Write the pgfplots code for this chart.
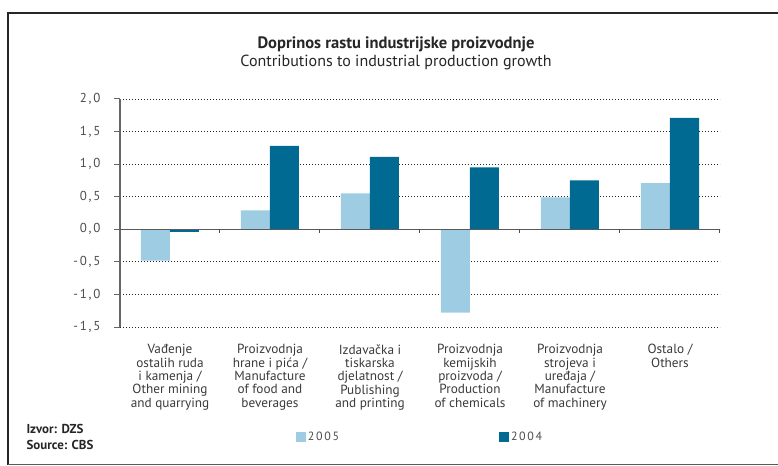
\documentclass[border=0pt]{standalone}
\usepackage{fontspec}
\setmainfont{PT Sans}
\newfontfamily\tickfont[LetterSpace=14]{PT Sans}
\usepackage{pgfplots}
\pgfplotsset{compat=1.18}
\definecolor{light}{HTML}{9ECCE3}
\definecolor{dark}{HTML}{006A93}
\definecolor{txt}{HTML}{3A3A3A}
\begin{document}
\begin{tikzpicture}[x=1bp,y=1bp]
\useasboundingbox (-120bp,-139bp) rectangle (658bp,327bp);
% frame
\draw[line width=2.5bp, black!85] (-112bp,-138bp) -- (-112bp,314bp) -- (658bp,314bp);
\draw[line width=1.6bp, black!65] (-112bp,-137.5bp) -- (658bp,-137.5bp);
% titles
\node[font=\bfseries\fontsize{16.6}{18}\selectfont, text=black!85] at (276bp,283bp) {Doprinos rastu industrijske proizvodnje};
\node[font=\fontsize{16.1}{18}\selectfont, text=black!85] at (276bp,265bp) {Contributions to industrial production growth};
% source
\node[font=\bfseries\fontsize{13}{16.5}\selectfont, text=black!85, align=left, anchor=west] at (-97bp,-110bp) {Izvor: DZS\\Source: CBS};
\begin{axis}[
  at={(0bp,0bp)}, anchor=south west,
  scale only axis, width=600bp, height=228bp,
  ybar=0pt, bar width=29bp,
  xmin=-0.5, xmax=5.5, ymin=-1.5, ymax=2.0,
  axis y line*=left, axis x line*=bottom,
  x axis line style={draw=none},
  y axis line style={draw=black!60, line width=1.2bp},
  ytick={-1.5,-1,...,2},
  ymajorgrids, grid style={black!85, dash pattern=on 1.5bp off 1.5bp, line width=0.8bp},
  ytick style={draw=black!60, line width=1bp},
  tick align=outside, major tick length=6bp,
  yticklabel style={font=\tickfont\fontsize{13}{15}\selectfont, text=black!70, xshift=-10bp},
  /pgf/number format/.cd, fixed, fixed zerofill, precision=1, use comma, assume math mode=true,
  /pgfplots/.cd,
  xtick={0,1,2,3,4,5},
  x tick style={draw=none},
  xticklabels={{Vađenje\\ostalih ruda\\i kamenja /\\Other mining\\and quarrying},
    {Proizvodnja\\hrane i pića /\\Manufacture\\of food and\\beverages},
    {Izdavačka i\\tiskarska\\djelatnost /\\Publishing\\and printing},
    {Proizvodnja\\kemijskih\\proizvoda /\\Production\\of chemicals},
    {Proizvodnja\\strojeva i\\uređaja /\\Manufacture\\of machinery},
    {Ostalo /\\Others}},
  xticklabel style={font=\fontsize{13.3}{13.4}\selectfont, text=txt, align=center, anchor=north, yshift=-8bp},
  legend columns=2,
  legend style={draw=none, fill=none, at={(axis description cs:0.293,-0.482)}, anchor=west,
    inner xsep=0pt, font=\tickfont\fontsize{12}{14}\selectfont, text=black!70,
    /tikz/every even column/.append style={column sep=158bp}},
  legend image code/.code={\fill[#1] (-6bp,-5bp) rectangle (4bp,5bp);},
]
\addplot[fill=light, draw=none] coordinates {(0,-0.48) (1,0.29) (2,0.55) (3,-1.28) (4,0.49) (5,0.71)};
\addplot[fill=dark, draw=none] coordinates {(0,-0.04) (1,1.28) (2,1.11) (3,0.95) (4,0.75) (5,1.71)};
\legend{2005,2004}
\draw[black!65, line width=1.4bp] (axis cs:-0.5,0) -- (axis cs:5.5,0);
\pgfplotsinvokeforeach{0.5,1.5,2.5,3.5,4.5,5.5}{\draw[black!70, line width=1bp] (axis cs:#1,0) -- ([yshift=-4bp]axis cs:#1,0);}
\end{axis}
\end{tikzpicture}
\end{document}
